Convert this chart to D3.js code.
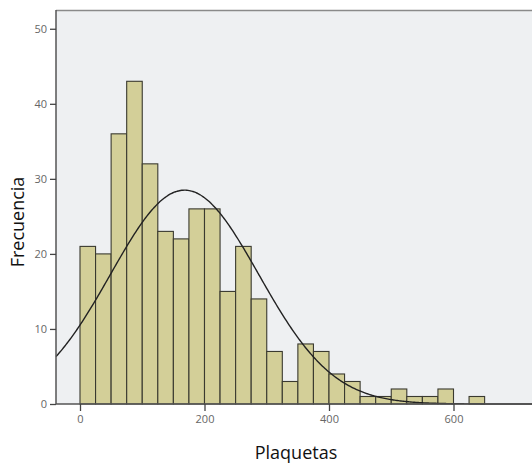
<!DOCTYPE html>
<html><head><meta charset="utf-8">
<script src="https://cdn.jsdelivr.net/npm/d3@7"></script>
<style>body{margin:0;background:#fff;}svg{display:block;}</style>
</head><body>
<svg id="c" width="532" height="463"></svg>
<script>
// Histogram data (bin start values, width 25)
const binStarts = [0,25,50,75,100,125,150,175,200,225,250,275,300,325,350,375,400,425,450,475,500,525,550,575,600,625];
const binWidth = 25;
const counts = [21,20,36,43,32,23,22,26,26,15,21,14,7,3,8,7,4,3,1,1,2,1,1,2,0,1];
const xTicks = [0,200,400,600];
const yTicks = [0,10,20,30,40,50];
// Fitted normal curve parameters
const fitMean = 168;
const fitSd = 119;
const nTotal = d3.sum(counts);

const svg = d3.select('#c');
const L = 56, T = 10, R = 545, B = 404;
const x = d3.scaleLinear().domain([-38.6, 0]).range([56, 80]);
x.domain([-38.55, (R - 80) / 0.6225]).range([L, R]);
const y = d3.scaleLinear().domain([0, 52.5]).range([B, T]);

svg.append('rect').attr('x', L).attr('y', T).attr('width', R - L).attr('height', B - T).attr('fill', '#eef0f2');
svg.append('line').attr('x1', L).attr('x2', R).attr('y1', T + 0.5).attr('y2', T + 0.5).attr('stroke', '#8a8a8a').attr('stroke-width', 1.5);

const bins = binStarts.map((s, i) => ({s, c: counts[i]})).filter(d => d.c > 0);
svg.append('g').selectAll('rect').data(bins).join('rect')
  .attr('x', d => x(d.s)).attr('width', d => x(d.s + binWidth) - x(d.s))
  .attr('y', d => y(d.c)).attr('height', d => y(0) - y(d.c))
  .attr('fill', '#d3cf98').attr('stroke', '#3a3a30').attr('stroke-width', 1.1);

// normal curve
const dens = v => nTotal * binWidth / (fitSd * Math.sqrt(2 * Math.PI)) * Math.exp(-0.5 * ((v - fitMean) / fitSd) ** 2);
const xs = d3.range(x.domain()[0], x.domain()[1], 2);
svg.append('path').datum(xs)
  .attr('d', d3.line().x(v => x(v)).y(v => y(dens(v))).curve(d3.curveBasis))
  .attr('fill', 'none').attr('stroke', '#222').attr('stroke-width', 1.4);

// axes
const yAxis = svg.append('g').attr('transform', `translate(${L},0)`)
  .call(d3.axisLeft(y).tickValues(yTicks).tickSize(6).tickPadding(3));
const xAxis = svg.append('g').attr('transform', `translate(0,${B})`)
  .call(d3.axisBottom(x).tickValues(xTicks).tickSize(7).tickPadding(4));
[yAxis, xAxis].forEach(g => {
  g.select('.domain').attr('stroke', '#555').attr('stroke-width', 1.5);
  g.selectAll('.tick line').attr('stroke', '#444').attr('stroke-width', 1.3);
  g.selectAll('.tick text').attr('fill', '#666').attr('font-family', 'Open Sans, DejaVu Sans, sans-serif').attr('font-size', 11);
});
yAxis.select('.domain').attr('d', `M0,${B}V${T}`);
xAxis.select('.domain').attr('d', `M${L},0H${R}`);

svg.append('text').attr('transform', 'translate(24,222) rotate(-90)').attr('text-anchor', 'middle')
  .attr('font-family', 'Open Sans, sans-serif').attr('font-size', 18).attr('fill', '#111').text('Frecuencia');
svg.append('text').attr('x', 296).attr('y', 459).attr('text-anchor', 'middle')
  .attr('font-family', 'Open Sans, sans-serif').attr('font-size', 18).attr('fill', '#111').text('Plaquetas');
</script>
</body></html>
